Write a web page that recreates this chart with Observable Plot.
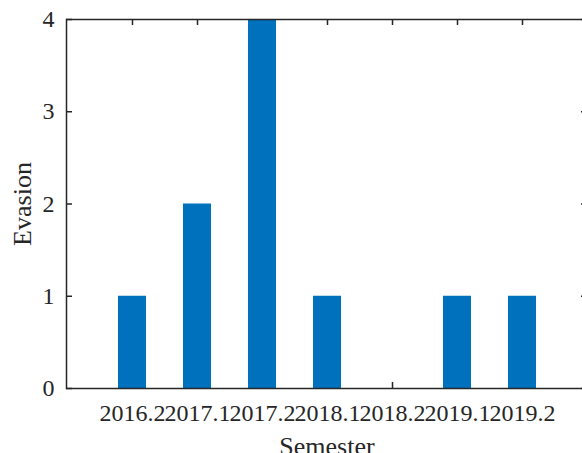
<!DOCTYPE html>
<html><head><meta charset="utf-8">
<script src="https://cdn.jsdelivr.net/npm/d3@7"></script>
<script src="https://cdn.jsdelivr.net/npm/@observablehq/plot@0.6"></script>
<style>html,body{margin:0;padding:0;overflow:hidden;background:#fff}</style>
</head><body><div id="chart"></div>
<script>
const semesters = ["2016.2","2017.1","2017.2","2018.1","2018.2","2019.1","2019.2"];
const evasion = [1,2,4,1,0,1,1];
const yTicks = [0,1,2,3,4];
const xLabel = "Semester";
const yLabel = "Evasion";
const data = semesters.map((s,i)=>({semester:s, evasion:evasion[i]}));
const ink = "#262626";
const W = 582, H = 453, mL = 66, mT = 19, mB = 65, mR = -5;
const frameW = W - mL - mR, frameH = H - mT - mB, tick = 6;
const chart = Plot.plot({
  width: W, height: H,
  marginLeft: mL, marginTop: mT, marginBottom: mB, marginRight: mR,
  style: {fontFamily: '"Liberation Serif", "Times New Roman", serif', fontSize: "24px", color: ink, background: "#fff", overflow: "visible"},
  x: {domain: semesters, paddingInner: 0.57, paddingOuter: 0.785, label: null, axis: null},
  y: {domain: [0,4], label: null, axis: null},
  marks: [
    Plot.axisX({anchor: "bottom", tickSize: 0, tickPadding: 15, label: null, fontSize: 24}),
    Plot.axisY({anchor: "left", ticks: yTicks, tickFormat: "d", tickSize: 0, tickPadding: 12, label: null, fontSize: 24}),
    // inward ticks on all four sides (MATLAB box style)
    Plot.tickX(semesters, {x: d => d, insetBottom: frameH - tick, stroke: ink, strokeWidth: 1.5}),
    Plot.tickX(semesters, {x: d => d, insetTop: frameH - tick, stroke: ink, strokeWidth: 1.5}),
    Plot.tickY(yTicks, {y: d => d, insetRight: frameW - tick, stroke: ink, strokeWidth: 1.5}),
    Plot.tickY(yTicks, {y: d => d, insetLeft: frameW - tick, stroke: ink, strokeWidth: 1.5}),
    Plot.barY(data, {x: "semester", y: "evasion", fill: "#0072BD"}),
    Plot.frame({stroke: ink, strokeWidth: 1.5}),
    Plot.text([yLabel], {frameAnchor: "left", textAnchor: "middle", rotate: -90, dx: -44, fontSize: 26, fill: ink}),
    Plot.text([xLabel], {frameAnchor: "bottom", textAnchor: "middle", dy: 66, lineAnchor: "bottom", fontSize: 26, fill: ink})
  ]
});
document.getElementById("chart").appendChild(chart);
</script>
</body></html>
